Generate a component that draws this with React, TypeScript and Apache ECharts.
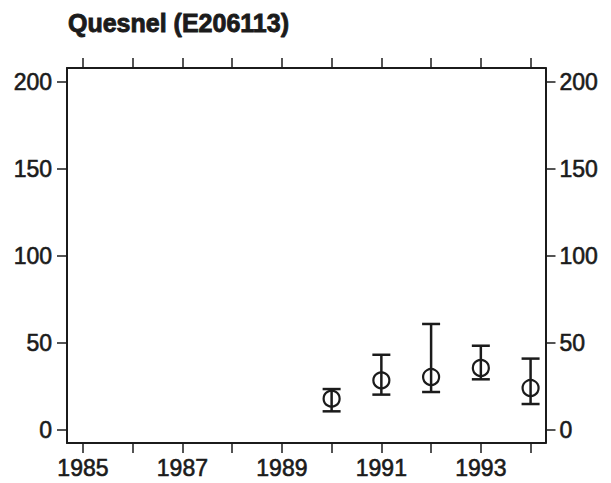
import React, { useEffect, useRef } from "react";
import * as echarts from "echarts";

const titleText = "Quesnel (E206113)";
const years = [1990, 1991, 1992, 1993, 1994];
const means = [18, 28.5, 30.4, 35.6, 24.1];
const lowers = [10.7, 20.3, 21.8, 29.1, 14.9];
const uppers = [23.5, 43.2, 60.9, 48.4, 41];
const xTickYears = [1985, 1986, 1987, 1988, 1989, 1990, 1991, 1992, 1993, 1994];
const xLabelYears = [1985, 1987, 1989, 1991, 1993];
const yTicks = [0, 50, 100, 150, 200];

const INK = "#1b1b1b";
const FONT = "'Liberation Sans', Arial, sans-serif";

export default function App() {
  const ref = useRef<HTMLDivElement>(null);
  useEffect(() => {
    const chart = echarts.init(ref.current!, undefined, { renderer: "svg" });
    const data = years.map((y, i) => [y, means[i], lowers[i], uppers[i]]);
    const xCommon = {
      type: "value" as const,
      min: 1984.68,
      max: 1994.3,
      splitLine: { show: false },
      axisLine: { show: true, onZero: false, lineStyle: { color: INK, width: 2 } },
      axisTick: { show: true, inside: false, length: 10, customValues: xTickYears, lineStyle: { color: INK, width: 1.5 } },
    };
    const yCommon = {
      type: "value" as const,
      min: -7.5,
      max: 208,
      splitLine: { show: false },
      axisLine: { show: true, onZero: false, lineStyle: { color: INK, width: 2 } },
      axisTick: { show: true, inside: false, length: 10, customValues: yTicks, lineStyle: { color: INK, width: 1.5 } },
    };
    const labelStyle = {
      color: INK,
      fontFamily: FONT,
      fontSize: 23,
      textBorderColor: INK,
      textBorderWidth: 0.6,
    };
    chart.setOption({
      animation: false,
      backgroundColor: "#ffffff",
      title: {
        text: titleText,
        left: 68,
        top: 10,
        padding: 0,
        textStyle: {
          color: INK,
          fontFamily: FONT,
          fontSize: 25,
          fontWeight: "bold",
          textBorderColor: INK,
          textBorderWidth: 0.9,
        },
      },
      grid: { left: 67, right: 65.5, top: 68, bottom: 40, containLabel: false },
      xAxis: [
        {
          ...xCommon,
          position: "bottom",
          axisLabel: { ...labelStyle, margin: 13, customValues: xLabelYears, formatter: (v: number) => String(v) },
        },
        {
          ...xCommon,
          position: "top",
          axisLabel: { show: false },
        },
      ],
      yAxis: [
        {
          ...yCommon,
          position: "left",
          axisLabel: { ...labelStyle, margin: 15, customValues: yTicks },
        },
        {
          ...yCommon,
          position: "right",
          axisLabel: { ...labelStyle, margin: 14, customValues: yTicks },
        },
      ],
      series: [
        {
          type: "custom",
          xAxisIndex: 0,
          yAxisIndex: 0,
          data,
          renderItem: (params: any, api: any) => {
            const x = api.value(0);
            const m = api.coord([x, api.value(1)]);
            const lo = api.coord([x, api.value(2)]);
            const hi = api.coord([x, api.value(3)]);
            const half = 9;
            const ls = { stroke: INK, lineWidth: 2.5, fill: null };
            return {
              type: "group",
              children: [
                { type: "line", shape: { x1: m[0], y1: lo[1], x2: m[0], y2: hi[1] }, style: ls },
                { type: "line", shape: { x1: m[0] - half, y1: lo[1], x2: m[0] + half, y2: lo[1] }, style: ls },
                { type: "line", shape: { x1: m[0] - half, y1: hi[1], x2: m[0] + half, y2: hi[1] }, style: ls },
                { type: "circle", shape: { cx: m[0], cy: m[1], r: 8 }, style: { stroke: INK, lineWidth: 2.2, fill: "none" } },
              ],
            };
          },
        },
      ],
    });
    return () => chart.dispose();
  }, []);
  return (
    <div
      ref={ref}
      style={{ position: "fixed", left: 0, top: 0, width: 611, height: 483, background: "#fff" }}
    />
  );
}
